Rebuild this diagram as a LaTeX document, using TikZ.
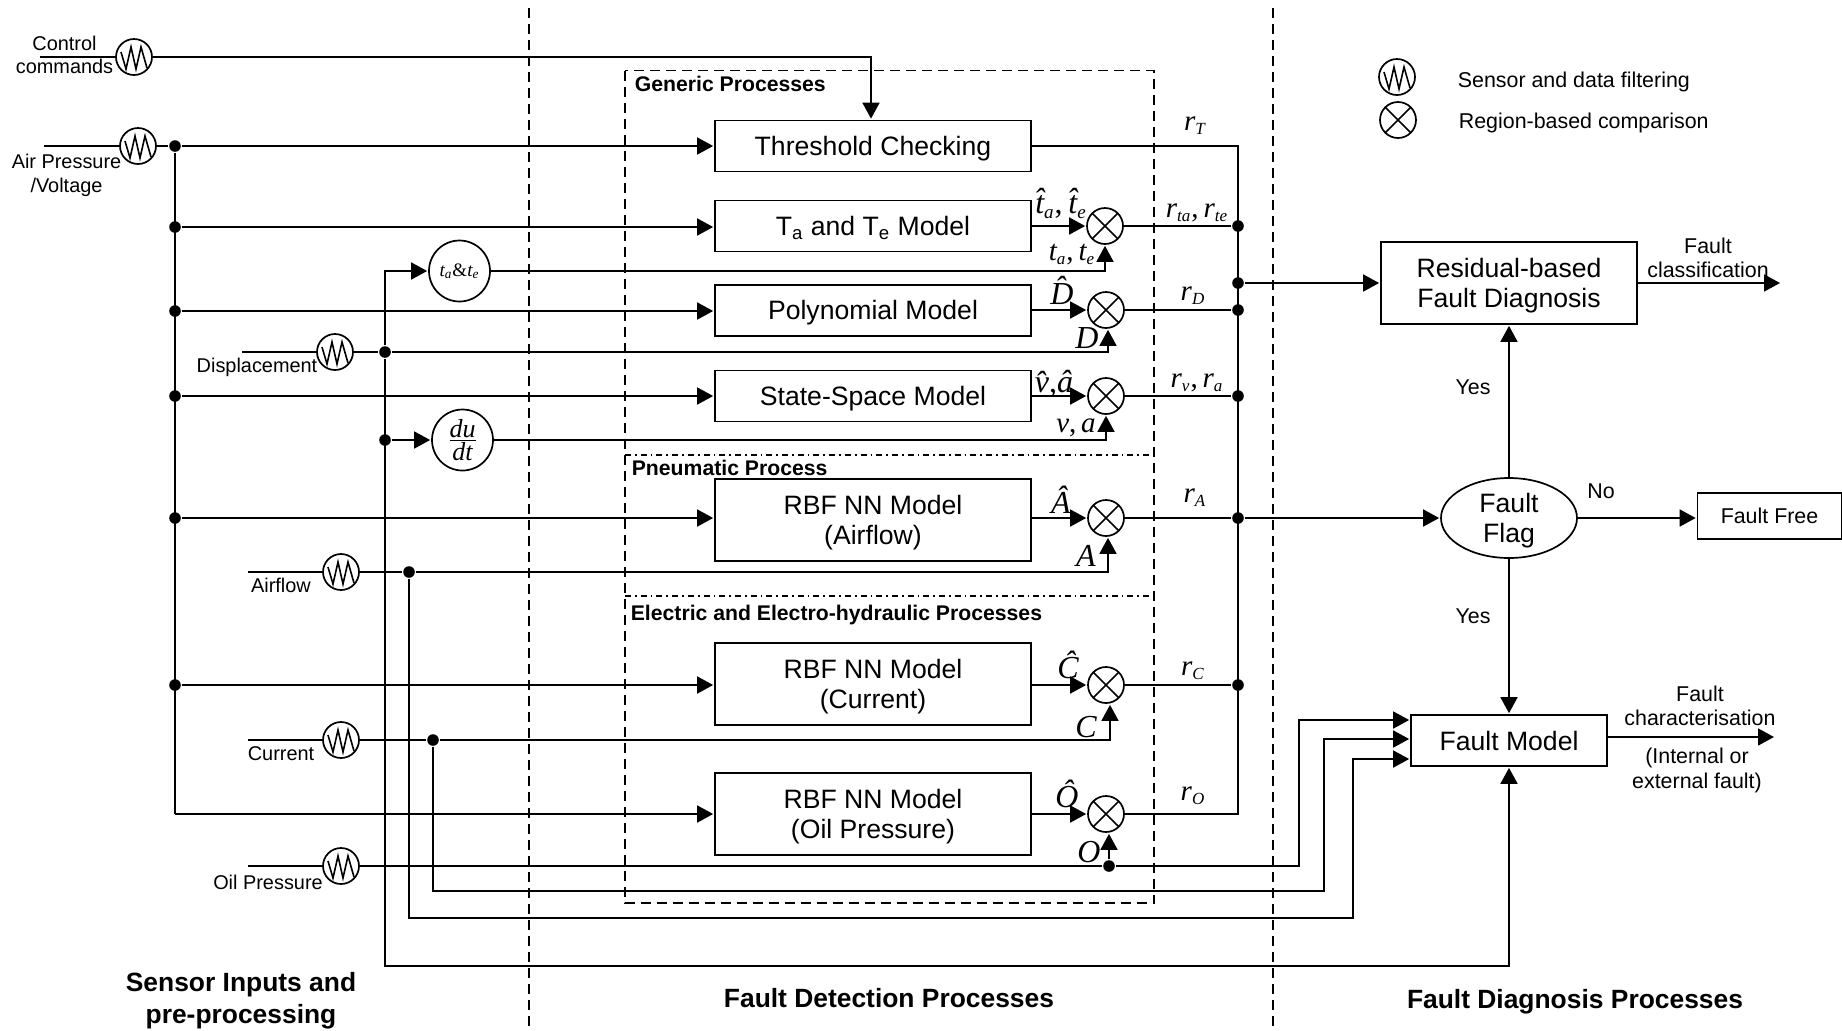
\documentclass[tikz,border=0pt]{standalone}
\usepackage{amsmath}
\usepackage{fontspec}
\setmainfont{Liberation Sans}
\newfontfamily\tms{Liberation Serif}
\usetikzlibrary{arrows.meta, shapes.geometric}
\DeclareMathSizes{16}{16}{9.5}{8}
\DeclareMathSizes{14.5}{14.5}{8.5}{7}
\newcommand{\mv}[1]{\text{\tms\itshape #1}}

\begin{document}
\begin{tikzpicture}[
  x=0.5pt, y=-0.5pt,
  line width=0.85pt,
  wire/.style={draw=black},
  arr/.style={-{Triangle[length=8pt,width=8.5pt]}, shorten >=0.5pt},
  dot/.style={circle, fill=black, inner sep=0pt, minimum size=5.8pt},
  divl/.style={dashed, dash pattern=on 5pt off 3pt, line width=0.7pt},
  box/.style={rectangle, draw, align=center, minimum width=158pt, text depth=0.5pt, font=\fontsize{13.3}{15}\selectfont},
  sens/.style={circle, draw, inner sep=0pt, minimum size=18pt,
    path picture={\draw[line width=0.8pt, shift={(path picture bounding box.center)}]
      (-13,-5) -- (-8,12) -- (-3,-10) -- (2,12) -- (7,-10) -- (13,11);}},
  cmp/.style={circle, draw, inner sep=0pt, minimum size=18pt,
    path picture={\draw (path picture bounding box.north west) -- (path picture bounding box.south east)
      (path picture bounding box.north east) -- (path picture bounding box.south west);}},
  calc/.style={circle, draw, inner sep=0pt, minimum size=30.5pt},
  lbl/.style={inner sep=0pt, align=center, font=\fontsize{10.7}{12.5}\selectfont},
  inl/.style={lbl, font=\fontsize{9.95}{11.6}\selectfont},
  hdr/.style={inner sep=0pt, anchor=west, font=\bfseries\fontsize{10.6}{12.5}\selectfont},
  ttl/.style={inner sep=0pt, align=center, font=\bfseries\fontsize{13.2}{16}\selectfont},
  sym/.style={inner sep=0pt, anchor=base, font=\fontsize{16}{18}\selectfont},
  syl/.style={sym, font=\fontsize{14.5}{17}\selectfont},
]
\useasboundingbox (0,0) rectangle (1842,1030);

% ---- Section dividers and process groups ----
\draw[divl] (529,8) -- (529,1030);
\draw[divl] (1273,8) -- (1273,1030);
\draw[divl] (625,70.5) rectangle (1154,903);
\draw[dash dot, line width=0.7pt] (625,455) -- (1149,455);
\draw[dash dot, line width=0.7pt] (625,596) -- (1149,596);

\node[hdr] (hGen) at (634,84) {Generic Processes};
\node[hdr] (hPne) at (631,468) {Pneumatic Process};
\node[hdr] (hEle) at (630,615) {Electric and Electro-hydraulic Processes};

% ---- Models ----
\node[box, minimum height=25.5pt] (th)   at (873,146)   {Threshold Checking};
\node[box, minimum height=25.5pt] (ta)   at (873,226)   {T\textsubscript{a} and T\textsubscript{e} Model};
\node[box, minimum height=25.5pt] (poly) at (873,310.5) {Polynomial Model};
\node[box, minimum height=25.5pt] (ss)   at (873,396)   {State-Space Model};
\node[box, minimum height=41pt]   (air)  at (873,520)   {RBF NN Model\\(Airflow)};
\node[box, minimum height=41pt]   (cur)  at (873,684)   {RBF NN Model\\(Current)};
\node[box, minimum height=41pt]   (oil)  at (873,814)   {RBF NN Model\\(Oil Pressure)};

% ---- Sensors and inputs ----
\node[sens] (snCtrl) at (134,57) {};
\node[sens] (snAir)  at (138,146) {};
\node[sens] (snDisp) at (335,352) {};
\node[sens] (snFlow) at (341,572) {};
\node[sens] (snCurr) at (341,740) {};
\node[sens] (snOil)  at (341,866) {};

\coordinate (inCtrl) at (40,57);
\coordinate (inAir)  at (44,146);
\coordinate (inDisp) at (242,352);
\coordinate (inFlow) at (248,572);
\coordinate (inCurr) at (248,740);
\coordinate (inOil)  at (248,866);
\foreach \s/\c in {inCtrl/snCtrl, inAir/snAir, inDisp/snDisp, inFlow/snFlow, inCurr/snCurr, inOil/snOil}{
  \draw[wire] (\s) -- (\c);
}

\node[inl] (lCtrl) at (64.5,55)  {Control\\[-0.3pt]commands};
\node[inl] (lAir)  at (66.5,175.5) {Air Pressure\\[0.4pt]/Voltage};
\node[inl] (lDisp) at (257,367)  {Displacement};
\node[inl] (lFlow) at (281,585)  {Airflow};
\node[inl] (lCurr) at (281,754)  {Current};
\node[inl] (lOil)  at (268,882)  {Oil Pressure};

\draw[arr] (snCtrl) -| ([xshift=-1pt]th.north);

% ---- Air pressure bus ----
\node[dot] (bTh) at (175,146) {};
\draw[wire] (snAir) -- (bTh);
\draw[arr] (bTh) -- (th);
\coordinate (bOil) at (175,814);
\draw[wire] (bTh) -- (bOil);
\draw[arr] (bOil) -- (oil);
\foreach \m/\yy in {ta/227, poly/311, ss/396, air/518, cur/685}{
  \node[dot] (b\m) at (175,\yy) {};
  \draw[arr] (b\m) -- (\m.west |- b\m);
}

% ---- Derived signals ----
\node[calc] (tat)  at (459.5,271) {\fontsize{9.5}{11}\selectfont$\mv{t}_{\mv{a}}$\tms\&$\mv{t}_{\mv{e}}$};
\node[calc] (dudt) at (462.5,440) {\fontsize{13}{15}\selectfont$\frac{\textstyle\mv{du}}{\textstyle\mv{dt}}$};
\node[dot] (dDisp) at (385,352) {};
\node[dot] (dDu)   at (385,440) {};
\node[dot] (dFlow) at (409,572) {};
\node[dot] (dCurr) at (433,740) {};

\draw[arr] (dDisp) |- (tat);
\draw[arr] (dDu) -- (dudt);

% ---- Comparisons and residual bus ----
\node[cmp] (cta)   at (1105,226) {};
\node[cmp] (cpoly) at (1106,310) {};
\node[cmp] (css)   at (1106,396) {};
\node[cmp] (cair)  at (1106,518) {};
\node[cmp] (ccur)  at (1106,685) {};
\node[cmp] (coil)  at (1106,814) {};

\coordinate (busTop) at (1238,146);
\coordinate (busBot) at (1238,814);
\draw[wire] (th) -- (busTop) -- (busBot) -- (coil);
\node[dot] (rOut) at (1238,283) {};
\foreach \m in {ta,poly,ss,air,cur}{
  \draw[arr] (\m.east |- c\m) -- (c\m);
  \node[dot] (r\m) at (1238,0 |- c\m) {};
  \draw[wire] (c\m) -- (r\m);
}
\draw[arr] (oil) -- (coil);

\draw[arr] (tat) -| (cta);
\draw[wire] (snDisp) -- (dDisp);
\draw[arr] (dDisp) -| ([xshift=1pt]cpoly.south);
\draw[arr] (dudt) -| (css);
\draw[wire] (snFlow) -- (dFlow);
\draw[arr] (dFlow) -| ([xshift=1pt]cair.south);
\draw[wire] (snCurr) -- (dCurr);
\draw[arr] (dCurr) -| ([xshift=2pt]ccur.south);
\node[dot] (dOil) at (1109,866) {};
\draw[wire] (snOil) -- (dOil);
\draw[arr] (dOil) -- (dOil |- coil.south);

% ---- Signal labels ----
\node[syl] (sRt)  at (1195,130) {$\mv{r}_{\mv{T}}$};
\node[syl] (sRta) at (1197,217) {$\mv{r}_{\mv{ta}}\text{\tms,}\,\mv{r}_{\mv{te}}$};
\node[syl] (sRd)  at (1193,300) {$\mv{r}_{\mv{D}}$};
\node[syl] (sRv)  at (1197,387) {$\mv{r}_{\mv{v}}\text{\tms,}\,\mv{r}_{\mv{a}}$};
\node[syl] (sRa)  at (1195,502) {$\mv{r}_{\mv{A}}$};
\node[syl] (sRc)  at (1193,675) {$\mv{r}_{\mv{C}}$};
\node[syl] (sRo)  at (1193,800) {$\mv{r}_{\mv{O}}$};
\node[sym] (sHt)  at (1061,213) {$\mv{\^t}_{\mv{a}}\text{\tms,}\,\mv{\^t}_{\mv{e}}$};
\node[syl] (sT)   at (1072,260) {$\mv{t}_{\mv{a}}\text{\tms,}\,\mv{t}_{\mv{e}}$};
\node[sym] (sHd)  at (1062,304) {$\mv{\^D}$};
\node[sym] (sD)   at (1087,348) {$\mv{D}$};
\node[sym] (sHv)  at (1054,392) {$\mv{\^v}\text{\tms,}\mv{\^a}$};
\node[syl] (sV)   at (1076,432) {$\mv{v}\text{\tms,}\,\mv{a}$};
\node[sym] (sHa)  at (1061,513) {$\mv{\^A}$};
\node[sym] (sA)   at (1086,566) {$\mv{A}$};
\node[sym] (sHc)  at (1068,678) {$\mv{\^C}$};
\node[sym] (sC)   at (1086,737) {$\mv{C}$};
\node[sym] (sHo)  at (1067,807) {$\mv{\^O}$};
\node[sym] (sO)   at (1089,862) {$\mv{O}$};

% ---- Diagnosis ----
\node[box, minimum width=128pt, minimum height=41pt] (resid) at (1509,283) {Residual-based\\Fault Diagnosis};
\node[ellipse, draw, align=center, inner sep=0pt, minimum width=68pt, minimum height=40pt, text depth=0.5pt,
      font=\fontsize{13.3}{15}\selectfont] (flag) at (1509,518) {Fault\\Flag};
\node[box, minimum width=72pt, minimum height=23pt, text depth=0pt, font=\fontsize{10.7}{12.5}\selectfont] (free) at (1769.5,516) {Fault Free};
\node[box, minimum width=98pt, minimum height=25.5pt, text depth=0pt] (fm) at (1509,740.5) {Fault Model};

\draw[arr] (rOut) -- (resid);
\draw[arr] (rair) -- (flag);
\draw[arr] (flag) -- (resid);
\draw[arr] (flag) -- (fm);
\draw[arr] (flag.east) -- (free.west |- flag.east);

\coordinate (outClass) at (1781,283);
\coordinate (outChar)  at (1775,737);
\coordinate (fmA) at ([yshift=10.25pt]fm.west);
\coordinate (fmB) at ([yshift=0.75pt]fm.west);
\coordinate (fmC) at ([yshift=-9.25pt]fm.west);
\draw[arr] (resid) -- (outClass);
\draw[arr] ([yshift=1.75pt]fm.east) -- (outChar);
\draw[arr] (dOil) -- (1299,866) |- (fmA);
\draw[arr] (dCurr) |- (1324,891) |- (fmB);
\draw[arr] (dFlow) |- (1353,918) |- (fmC);
\draw[arr] (dDisp) -- (385,966) -| (fm);

\node[lbl] (lYes1) at (1473,387) {Yes};
\node[lbl] (lYes2) at (1473,616) {Yes};
\node[lbl] (lNo)   at (1601,491) {No};
\node[lbl] (lClass) at (1708,257.5) {Fault\\[-0.6pt]classification};
\node[lbl] (lChar) at (1700,706) {Fault\\[-0.4pt]characterisation};
\node[lbl] (lKind) at (1697,770.5) {(Internal or\\[0pt]external fault)};

% ---- Legend ----
\node[sens] (kSens) at (1397,77) {};
\node[cmp] (kCmp) at (1398,120) {};
\node[lbl, anchor=west] (kSensT) at (1457,82) {Sensor and data filtering};
\node[lbl, anchor=west] (kCmpT) at (1458,123) {Region-based comparison};

% ---- Section titles ----
\node[ttl] (tIn)  at (241,1001) {Sensor Inputs and\\pre-processing};
\node[ttl] (tDet) at (889,998) {Fault Detection Processes};
\node[ttl] (tDia) at (1575,1002) {Fault Diagnosis Processes};

\end{tikzpicture}
\end{document}
